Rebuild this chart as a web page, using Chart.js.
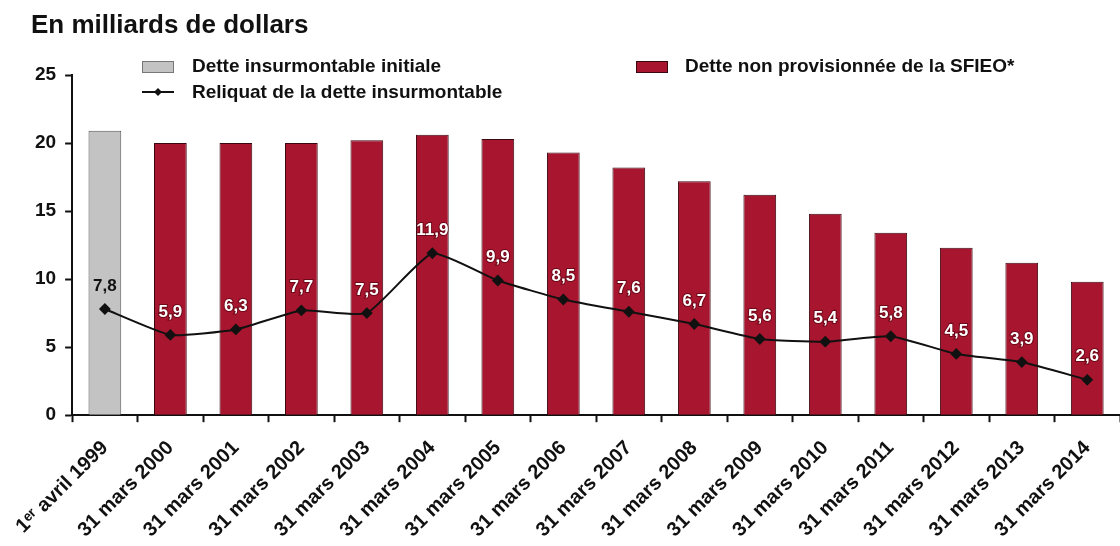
<!DOCTYPE html>
<html>
<head>
<meta charset="utf-8">
<script src="https://cdn.jsdelivr.net/npm/chart.js@4"></script>
<style>
  html, body { margin: 0; padding: 0; background: #fff; }
  #wrap { width: 1120px; height: 546px; }
</style>
</head>
<body>
<div id="wrap"><canvas id="chartDebt"></canvas></div>
<script>
var labels = ['1ᵉʳ avril 1999', '31 mars 2000', '31 mars 2001', '31 mars 2002', '31 mars 2003',
  '31 mars 2004', '31 mars 2005', '31 mars 2006', '31 mars 2007', '31 mars 2008', '31 mars 2009',
  '31 mars 2010', '31 mars 2011', '31 mars 2012', '31 mars 2013', '31 mars 2014'];
var initialDebt = [20.9, null, null, null, null, null, null, null, null, null, null, null, null, null, null, null];
var unfundedDebt = [null, 20.0, 20.0, 20.0, 20.2, 20.6, 20.3, 19.3, 18.2, 17.2, 16.2, 14.8, 13.4, 12.3, 11.2, 9.8];
var remainingDebt = [7.8, 5.9, 6.3, 7.7, 7.5, 11.9, 9.9, 8.5, 7.6, 6.7, 5.6, 5.4, 5.8, 4.5, 3.9, 2.6];
var yTicks = [0, 5, 10, 15, 20, 25];

var FONT = '"Liberation Sans", Arial, sans-serif';
var RED = '#a8152e';
var GREY = '#c3c3c3';

// value labels above the line points
var pointLabels = {
  id: 'pointLabels',
  afterDatasetsDraw: function (chart) {
    var ctx = chart.ctx;
    var meta = chart.getDatasetMeta(0);
    ctx.save();
    ctx.font = 'bold 17px ' + FONT;
    ctx.textAlign = 'center';
    ctx.textBaseline = 'middle';
    meta.data.forEach(function (pt, i) {
      var txt = remainingDebt[i].toFixed(1).replace('.', ',');
      var y = pt.y - 23;
      if (i === 0) {
        ctx.fillStyle = '#111';
        ctx.fillText(txt, pt.x, y);
      } else {
        ctx.lineWidth = 2;
        ctx.strokeStyle = 'rgba(70,0,10,0.6)';
        ctx.strokeText(txt, pt.x, y);
        ctx.fillStyle = '#fff';
        ctx.fillText(txt, pt.x, y);
      }
    });
    ctx.restore();
  }
};

// title and hand placed legend
var headerLegend = {
  id: 'headerLegend',
  afterDraw: function (chart) {
    var ctx = chart.ctx;
    var ds = chart.data.datasets;
    ctx.save();
    ctx.fillStyle = '#111';
    ctx.textBaseline = 'middle';
    ctx.textAlign = 'left';
    ctx.font = 'bold 26px ' + FONT;
    ctx.fillText('En milliards de dollars', 31, 26);

    ctx.font = 'bold 19px ' + FONT;
    // grey box
    ctx.fillStyle = GREY;
    ctx.strokeStyle = '#777';
    ctx.lineWidth = 1;
    ctx.fillRect(142, 61, 31, 11);
    ctx.strokeRect(142.5, 61.5, 31, 11);
    ctx.fillStyle = '#111';
    ctx.fillText(ds[1].label, 192, 67);
    // line marker
    ctx.strokeStyle = '#111';
    ctx.lineWidth = 2;
    ctx.beginPath();
    ctx.moveTo(142, 92);
    ctx.lineTo(174, 92);
    ctx.stroke();
    ctx.beginPath();
    ctx.moveTo(158, 88); ctx.lineTo(162, 92); ctx.lineTo(158, 96); ctx.lineTo(154, 92);
    ctx.closePath();
    ctx.fill();
    ctx.fillText(ds[0].label, 192, 93);
    // red box
    ctx.fillStyle = RED;
    ctx.strokeStyle = '#3a0810';
    ctx.lineWidth = 1;
    ctx.fillRect(636, 61, 31, 11);
    ctx.strokeRect(636.5, 61.5, 31, 11);
    ctx.fillStyle = '#111';
    ctx.fillText(ds[2].label, 685, 67);
    ctx.restore();
  }
};

var ctx = document.getElementById('chartDebt').getContext('2d');
var chart = new Chart(ctx, {
  type: 'bar',
  data: {
    labels: labels,
    datasets: [{
      type: 'line',
      label: 'Reliquat de la dette insurmontable',
      data: remainingDebt,
      borderColor: '#111',
      backgroundColor: '#111',
      borderWidth: 2,
      pointStyle: 'rectRot',
      pointRadius: 4.5,
      tension: 0.15,
      order: 0
    }, {
      label: 'Dette insurmontable initiale',
      data: initialDebt,
      backgroundColor: GREY,
      borderColor: '#555',
      borderWidth: 1,
      skipNull: true,
      order: 1
    }, {
      label: 'Dette non provisionnée de la SFIEO*',
      data: unfundedDebt,
      backgroundColor: RED,
      borderColor: '#3a0810',
      borderWidth: 1,
      skipNull: true,
      order: 1
    }]
  },
  options: {
    responsive: true,
    maintainAspectRatio: false,
    animation: false,
    layout: { autoPadding: false, padding: { top: 75, right: 0, left: 26, bottom: -10 } },
    datasets: {
      bar: { categoryPercentage: 1, barPercentage: 0.5 }
    },
    plugins: {
      legend: { display: false },
      tooltip: { enabled: false }
    },
    scales: {
      x: {
        // let the rotated labels hang over the edges like the original
        afterFit: function (axis) {
          axis.paddingLeft = 0;
          axis.paddingRight = 0;
        },
        grid: { display: true, drawOnChartArea: false, offset: true, tickLength: 7, tickColor: '#111', tickWidth: 2 },
        border: { color: '#111', width: 2 },
        ticks: {
          color: '#111',
          font: { family: FONT, size: 20, weight: 'bold' },
          minRotation: 45,
          maxRotation: 45,
          padding: 14,
          autoSkip: false
        }
      },
      y: {
        min: 0,
        max: 25,
        afterBuildTicks: function (axis) {
          axis.ticks = yTicks.map(function (v) { return { value: v }; });
        },
        grid: { display: true, drawOnChartArea: false, tickLength: 7, tickColor: '#111', tickWidth: 2 },
        border: { color: '#111', width: 2 },
        ticks: {
          color: '#111',
          font: { family: FONT, size: 19, weight: 'bold' },
          padding: 9
        }
      }
    }
  },
  plugins: [pointLabels, headerLegend]
});
</script>
</body>
</html>
